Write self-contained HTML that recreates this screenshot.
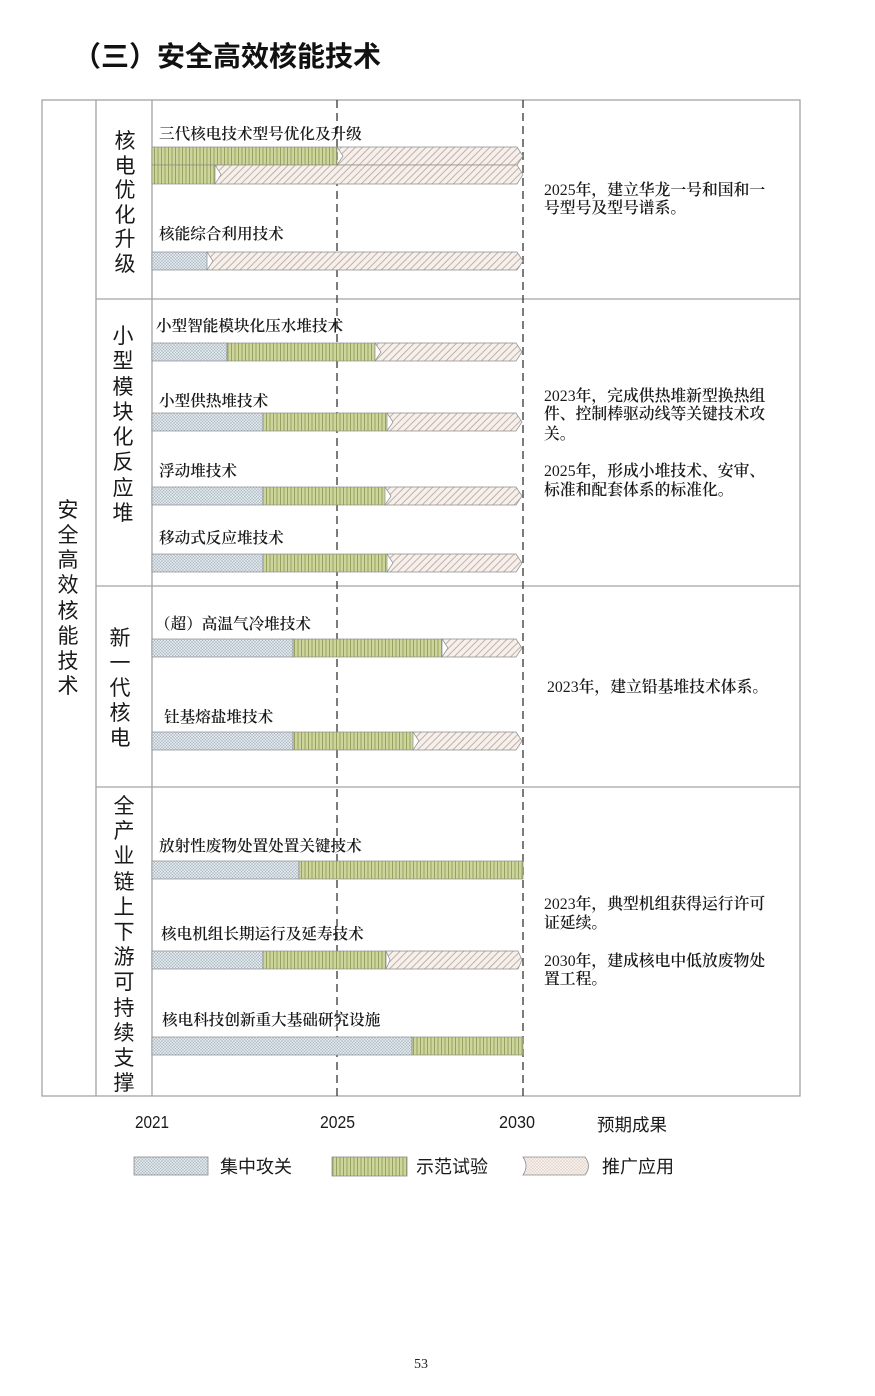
<!DOCTYPE html>
<html><head><meta charset="utf-8">
<style>
html,body{margin:0;padding:0;background:#fff;}
svg{display:block;}
.sans{font-family:"Liberation Sans","Noto Sans CJK SC",sans-serif;}
.serif{font-family:"Liberation Serif","Noto Serif CJK SC",serif;}
.n{font-weight:normal;}
</style></head>
<body>
<svg width="875" height="1396" viewBox="0 0 875 1396" xmlns="http://www.w3.org/2000/svg">
<defs>
 <pattern id="pb" width="3" height="3" patternUnits="userSpaceOnUse">
  <rect width="3" height="3" fill="#dfe6eb"/>
  <path d="M0,0L3,3M3,0L0,3" stroke="#a9b5bf" stroke-width="0.5"/>
 </pattern>
 <pattern id="pg" width="3.5" height="10" patternUnits="userSpaceOnUse">
  <rect width="3.5" height="10" fill="#cdd59c"/>
  <rect x="0" width="1" height="10" fill="#97a25e"/>
 </pattern>
 <pattern id="pp" width="5" height="5" patternUnits="userSpaceOnUse" patternTransform="rotate(45)">
  <rect width="5" height="5" fill="#f5f0ec"/>
  <rect width="1" height="5" fill="#c4afa6"/>
 </pattern>
 <pattern id="pp2" width="3" height="3" patternUnits="userSpaceOnUse">
  <rect width="3" height="3" fill="#f6efeb"/>
  <path d="M0,0L3,3M3,0L0,3" stroke="#d8c6be" stroke-width="0.4"/>
 </pattern>
</defs>

<rect width="875" height="1396" fill="#fff"/>

<!-- Title -->
<text class="sans" x="73" y="66" font-size="28" font-weight="bold" fill="#111">（三）安全高效核能技术</text>

<!-- Table lines -->
<g stroke="#a3a3a3" stroke-width="1.3" fill="none">
 <rect x="42" y="100" width="758" height="996"/>
 <line x1="96" y1="100" x2="96" y2="1096"/>
 <line x1="152" y1="100" x2="152" y2="1096"/>
 <line x1="96" y1="299" x2="800" y2="299"/>
 <line x1="96" y1="586" x2="800" y2="586"/>
 <line x1="96" y1="787" x2="800" y2="787"/>
</g>

<!-- Dashed year lines -->
<g stroke="#444" stroke-width="1.4" stroke-dasharray="8,5">
 <line x1="337" y1="100" x2="337" y2="1100"/>
 <line x1="523" y1="100" x2="523" y2="1100"/>
</g>

<!-- Bars -->
<g stroke="#8c8c8c" stroke-width="0.7">
 <!-- Row 1 -->
 <rect x="152" y="147" width="185" height="18" fill="url(#pg)"/>
 <polygon points="337,147 517,147 523,156 517,165 337,165 343,156" fill="url(#pp)"/>
 <rect x="152" y="165" width="63" height="19" fill="url(#pg)"/>
 <polygon points="215,165 517,165 523,174.5 517,184 215,184 221,174.5" fill="url(#pp)"/>
 <rect x="152" y="252" width="55" height="18" fill="url(#pb)"/>
 <polygon points="207,252 517,252 523,261 517,270 207,270 213,261" fill="url(#pp)"/>

 <!-- Row 2 -->
 <rect x="152" y="343" width="75" height="18" fill="url(#pb)"/>
 <rect x="227" y="343" width="148" height="18" fill="url(#pg)"/>
 <polygon points="375,343 516,343 522,352 516,361 375,361 381,352" fill="url(#pp)"/>

 <rect x="152" y="413" width="111" height="18" fill="url(#pb)"/>
 <rect x="263" y="413" width="124" height="18" fill="url(#pg)"/>
 <polygon points="387,413 516,413 522,422 516,431 387,431 393,422" fill="url(#pp)"/>

 <rect x="152" y="487" width="111" height="18" fill="url(#pb)"/>
 <rect x="263" y="487" width="122" height="18" fill="url(#pg)"/>
 <polygon points="385,487 516,487 522,496 516,505 385,505 391,496" fill="url(#pp)"/>

 <rect x="152" y="554" width="111" height="18" fill="url(#pb)"/>
 <rect x="263" y="554" width="124" height="18" fill="url(#pg)"/>
 <polygon points="387,554 516,554 522,563 516,572 387,572 393,563" fill="url(#pp)"/>

 <!-- Row 3 -->
 <rect x="152" y="639" width="141" height="18" fill="url(#pb)"/>
 <rect x="293" y="639" width="149" height="18" fill="url(#pg)"/>
 <polygon points="442,639 516,639 522,648 516,657 442,657 448,648" fill="url(#pp)"/>

 <rect x="152" y="732" width="141" height="18" fill="url(#pb)"/>
 <rect x="293" y="732" width="120" height="18" fill="url(#pg)"/>
 <polygon points="413,732 516,732 522,741 516,750 413,750 419,741" fill="url(#pp)"/>

 <!-- Row 4 -->
 <rect x="152" y="861" width="147" height="18" fill="url(#pb)"/>
 <rect x="299" y="861" width="224" height="18" fill="url(#pg)"/>

 <rect x="152" y="951" width="111" height="18" fill="url(#pb)"/>
 <rect x="263" y="951" width="123" height="18" fill="url(#pg)"/>
 <polygon points="386,951 518,951 522,960 518,969 386,969 390,960" fill="url(#pp)"/>

 <rect x="152" y="1037" width="260" height="18" fill="url(#pb)"/>
 <rect x="412" y="1037" width="111" height="18" fill="url(#pg)"/>
</g>

<!-- Bar labels -->
<g class="serif" font-size="15.6" font-weight="600" fill="#1a1a1a">
 <text x="159" y="139">三代核电技术型号优化及升级</text>
 <text x="159" y="239">核能综合利用技术</text>
 <text x="156" y="331">小型智能模块化压水堆技术</text>
 <text x="159" y="406">小型供热堆技术</text>
 <text x="159" y="476">浮动堆技术</text>
 <text x="159" y="543">移动式反应堆技术</text>
 <text x="155" y="629">（超）高温气冷堆技术</text>
 <text x="164" y="722">钍基熔盐堆技术</text>
 <text x="159" y="851">放射性废物处置处置关键技术</text>
 <text x="161" y="939">核电机组长期运行及延寿技术</text>
 <text x="162" y="1025">核电科技创新重大基础研究设施</text>
</g>

<!-- Expected results -->
<g class="serif" font-size="15.8" font-weight="600" fill="#1a1a1a">
 <text x="544" y="195"><tspan class="n">2025</tspan>年，建立华龙一号和国和一</text>
 <text x="544" y="213">号型号及型号谱系。</text>

 <text x="544" y="401"><tspan class="n">2023</tspan>年，完成供热堆新型换热组</text>
 <text x="544" y="419">件、控制棒驱动线等关键技术攻</text>
 <text x="544" y="439">关。</text>
 <text x="544" y="476"><tspan class="n">2025</tspan>年，形成小堆技术、安审、</text>
 <text x="544" y="495">标准和配套体系的标准化。</text>

 <text x="547" y="692"><tspan class="n">2023</tspan>年，建立铅基堆技术体系。</text>

 <text x="544" y="909"><tspan class="n">2023</tspan>年，典型机组获得运行许可</text>
 <text x="544" y="928">证延续。</text>
 <text x="544" y="966"><tspan class="n">2030</tspan>年，建成核电中低放废物处</text>
 <text x="544" y="984">置工程。</text>
</g>

<!-- Vertical category labels -->
<g class="sans" font-size="21" fill="#1a1a1a" text-anchor="middle">
 <!-- column 1 -->
 <text x="68" y="517">安</text>
 <text x="68" y="542">全</text>
 <text x="68" y="567">高</text>
 <text x="68" y="592">效</text>
 <text x="68" y="618">核</text>
 <text x="68" y="643">能</text>
 <text x="68" y="668">技</text>
 <text x="68" y="693">术</text>
 <!-- row 1 -->
 <text x="125" y="148">核</text>
 <text x="125" y="173">电</text>
 <text x="125" y="197">优</text>
 <text x="125" y="222">化</text>
 <text x="125" y="246">升</text>
 <text x="125" y="271">级</text>
 <!-- row 2 -->
 <text x="123" y="343">小</text>
 <text x="123" y="368">型</text>
 <text x="123" y="394">模</text>
 <text x="123" y="419">块</text>
 <text x="123" y="444">化</text>
 <text x="123" y="469">反</text>
 <text x="123" y="495">应</text>
 <text x="123" y="520">堆</text>
 <!-- row 3 -->
 <text x="120" y="645">新</text>
 <text x="120" y="670">一</text>
 <text x="120" y="695">代</text>
 <text x="120" y="720">核</text>
 <text x="120" y="745">电</text>
 <!-- row 4 -->
 <text x="124" y="813">全</text>
 <text x="124" y="838">产</text>
 <text x="124" y="863">业</text>
 <text x="124" y="889">链</text>
 <text x="124" y="914">上</text>
 <text x="124" y="939">下</text>
 <text x="124" y="964">游</text>
 <text x="124" y="989">可</text>
 <text x="124" y="1015">持</text>
 <text x="124" y="1040">续</text>
 <text x="124" y="1065">支</text>
 <text x="124" y="1090">撑</text>
</g>

<!-- Axis labels -->
<g class="sans" font-size="17.5" fill="#1a1a1a">
 <text x="135" y="1128" textLength="34" lengthAdjust="spacingAndGlyphs">2021</text>
 <text x="320" y="1128" textLength="35" lengthAdjust="spacingAndGlyphs">2025</text>
 <text x="499" y="1128" textLength="36" lengthAdjust="spacingAndGlyphs">2030</text>
 <text x="597" y="1131">预期成果</text>
</g>

<!-- Legend -->
<g stroke="#8c8c8c" stroke-width="0.8">
 <rect x="134" y="1157" width="74" height="18" fill="url(#pb)"/>
 <rect x="332" y="1157" width="75" height="19" fill="url(#pg)"/>
 <path d="M523,1157 L585,1157 Q592,1166 585,1175 L523,1175 Q529,1166 523,1157 Z" fill="url(#pp2)"/>
</g>
<g class="sans" font-size="18" fill="#1a1a1a">
 <text x="220" y="1173">集中攻关</text>
 <text x="416" y="1173">示范试验</text>
 <text x="602" y="1173">推广应用</text>
</g>

<!-- Page number -->
<text class="serif" x="421" y="1368" font-size="14" fill="#222" text-anchor="middle">53</text>
</svg>
</body></html>
